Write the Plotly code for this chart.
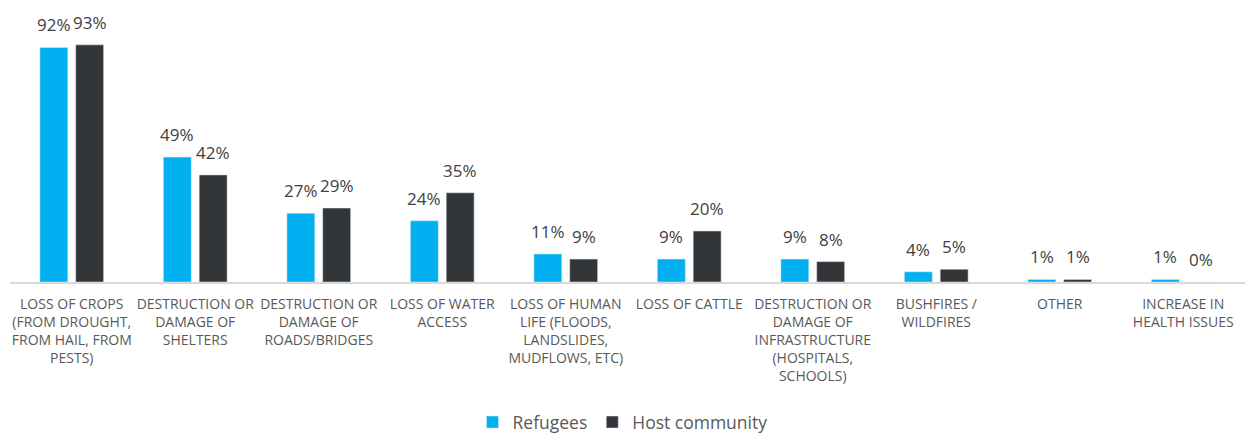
import plotly.graph_objects as go

categories = [
    "LOSS OF CROPS<br>(FROM DROUGHT,<br>FROM HAIL, FROM<br>PESTS)",
    "DESTRUCTION OR<br>DAMAGE OF<br>SHELTERS",
    "DESTRUCTION OR<br>DAMAGE OF<br>ROADS/BRIDGES",
    "LOSS OF WATER<br>ACCESS",
    "LOSS OF HUMAN<br>LIFE (FLOODS,<br>LANDSLIDES,<br>MUDFLOWS, ETC)",
    "LOSS OF CATTLE",
    "DESTRUCTION OR<br>DAMAGE OF<br>INFRASTRUCTURE<br>(HOSPITALS,<br>SCHOOLS)",
    "BUSHFIRES /<br>WILDFIRES",
    "OTHER",
    "INCREASE IN<br>HEALTH ISSUES",
]
refugees = [92, 49, 27, 24, 11, 9, 9, 4, 1, 1]
host_community = [93, 42, 29, 35, 9, 20, 8, 5, 1, 0]

FONT = "Open Sans"
TEXT = "#595959"
LABEL = "#404040"

series = [
    ("Refugees", refugees, "#00B0F0", -18),
    ("Host community", host_community, "#323638", 18),
]

fig = go.Figure()
for name, values, color, _ in series:
    fig.add_trace(go.Bar(name=name, x=categories, y=values,
                         marker=dict(color=color), cliponaxis=False))

# value labels above each bar, offset to sit over its half of the group
for name, values, color, dx in series:
    for cat, v in zip(categories, values):
        fig.add_annotation(x=cat, y=v, text=f"{v}%", showarrow=False,
                           xshift=dx, yshift=9, yanchor="bottom",
                           font=dict(size=17, color=LABEL, family=FONT))

fig.update_layout(
    width=1245, height=433,
    margin=dict(l=10, r=0, t=27, b=151),
    paper_bgcolor="white", plot_bgcolor="white",
    barmode="group", bargap=0.42, bargroupgap=0.22,
    font=dict(family=FONT, color=TEXT, size=14),
    showlegend=True,
    legend=dict(orientation="h", x=0.5, xanchor="center", xref="container",
                y=0.025, yanchor="middle", yref="container",
                font=dict(size=17.5, color=TEXT, family=FONT), itemwidth=30,
                traceorder="normal"),
)
fig.update_xaxes(showline=True, linecolor="#D9D9D9", linewidth=1.5, ticks="",
                 ticklabelstandoff=8,
                 tickfont=dict(size=14, color=TEXT, family=FONT), showgrid=False)
fig.update_yaxes(range=[0, 100], visible=False, showgrid=False, zeroline=False)

fig.write_html("out.html")
